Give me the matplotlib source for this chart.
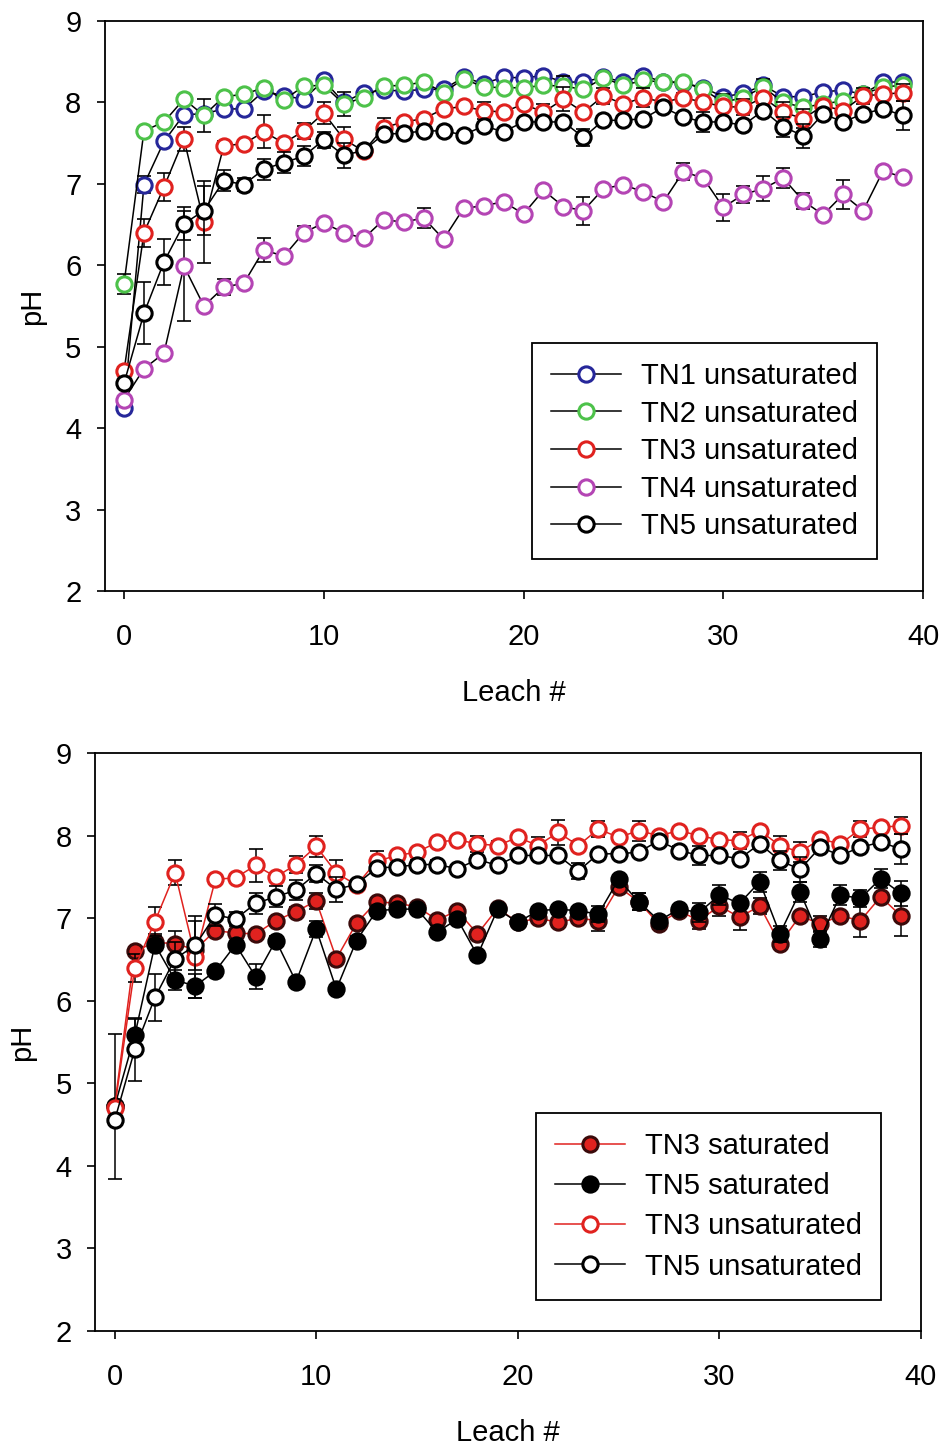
import numpy as np
import matplotlib.pyplot as plt

plt.rcParams['font.family'] = ['Liberation Sans', 'DejaVu Sans']

leach = np.arange(40)

# top panel: unsaturated columns
tn1_unsat = [4.25, 6.99, 7.52, 7.85, 7.86, 7.92, 7.92, 8.14, 8.08, 8.04,
             8.27, 8.00, 8.12, 8.15, 8.14, 8.16, 8.16, 8.31, 8.23, 8.31,
             8.30, 8.33, 8.25, 8.25, 8.31, 8.25, 8.33, 8.25, 8.24, 8.18,
             8.07, 8.11, 8.21, 8.07, 8.07, 8.13, 8.15, 8.10, 8.25, 8.25]
tn1_err = [0.05, 0.10, 0.05, 0.05, 0.05, 0.05, 0.05, 0.05, 0.05, 0.05,
           0.05, 0.05, 0.05, 0.05, 0.05, 0.05, 0.05, 0.05, 0.05, 0.05,
           0.05, 0.05, 0.05, 0.05, 0.05, 0.05, 0.05, 0.05, 0.05, 0.05,
           0.05, 0.05, 0.05, 0.05, 0.05, 0.05, 0.05, 0.05, 0.05, 0.05]

tn2_unsat = [5.77, 7.65, 7.76, 8.04, 7.84, 8.07, 8.10, 8.18, 8.03, 8.20,
             8.21, 7.98, 8.06, 8.20, 8.21, 8.25, 8.12, 8.29, 8.19, 8.18,
             8.18, 8.21, 8.20, 8.16, 8.30, 8.21, 8.27, 8.25, 8.25, 8.16,
             8.00, 8.06, 8.19, 8.00, 7.94, 7.98, 8.02, 8.10, 8.19, 8.21]
tn2_err = [0.12, 0.05, 0.05, 0.05, 0.20, 0.05, 0.05, 0.05, 0.05, 0.05,
           0.05, 0.15, 0.05, 0.05, 0.05, 0.05, 0.05, 0.05, 0.05, 0.05,
           0.05, 0.05, 0.12, 0.05, 0.05, 0.05, 0.05, 0.05, 0.05, 0.05,
           0.10, 0.05, 0.10, 0.05, 0.05, 0.05, 0.05, 0.05, 0.05, 0.05]

tn3_unsat = [4.70, 6.40, 6.96, 7.55, 6.53, 7.47, 7.49, 7.64, 7.50, 7.65,
             7.87, 7.55, 7.40, 7.69, 7.76, 7.80, 7.92, 7.95, 7.90, 7.88,
             7.98, 7.88, 8.04, 7.88, 8.08, 7.98, 8.06, 8.00, 8.06, 8.00,
             7.95, 7.94, 8.06, 7.88, 7.80, 7.96, 7.90, 8.08, 8.10, 8.12]
tn3_err = [0.05, 0.17, 0.17, 0.15, 0.50, 0.05, 0.05, 0.20, 0.05, 0.10,
           0.13, 0.15, 0.05, 0.12, 0.05, 0.05, 0.05, 0.05, 0.10, 0.05,
           0.05, 0.10, 0.15, 0.05, 0.10, 0.05, 0.12, 0.05, 0.05, 0.05,
           0.05, 0.10, 0.05, 0.12, 0.12, 0.05, 0.05, 0.10, 0.05, 0.10]

tn4_unsat = [4.35, 4.73, 4.92, 5.99, 5.50, 5.73, 5.78, 6.19, 6.11, 6.40,
             6.52, 6.40, 6.33, 6.56, 6.53, 6.58, 6.32, 6.70, 6.73, 6.78,
             6.63, 6.92, 6.72, 6.67, 6.94, 6.99, 6.90, 6.78, 7.15, 7.07,
             6.71, 6.87, 6.94, 7.07, 6.79, 6.62, 6.87, 6.67, 7.16, 7.08]
tn4_err = [0.05, 0.05, 0.05, 0.68, 0.05, 0.10, 0.05, 0.15, 0.05, 0.08,
           0.05, 0.05, 0.05, 0.05, 0.05, 0.12, 0.05, 0.05, 0.05, 0.05,
           0.05, 0.05, 0.05, 0.17, 0.05, 0.05, 0.05, 0.05, 0.10, 0.05,
           0.17, 0.10, 0.15, 0.12, 0.10, 0.05, 0.18, 0.05, 0.05, 0.05]

tn5_unsat = [4.55, 5.41, 6.04, 6.51, 6.67, 7.04, 6.99, 7.18, 7.26, 7.34,
             7.54, 7.35, 7.41, 7.61, 7.62, 7.65, 7.65, 7.60, 7.71, 7.64,
             7.76, 7.76, 7.76, 7.57, 7.78, 7.78, 7.80, 7.94, 7.82, 7.76,
             7.76, 7.72, 7.90, 7.70, 7.59, 7.86, 7.76, 7.86, 7.92, 7.84]
tn5_err = [0.05, 0.38, 0.28, 0.20, 0.30, 0.13, 0.08, 0.13, 0.13, 0.12,
           0.10, 0.15, 0.05, 0.05, 0.05, 0.05, 0.05, 0.05, 0.05, 0.05,
           0.05, 0.05, 0.05, 0.10, 0.05, 0.05, 0.05, 0.05, 0.05, 0.12,
           0.05, 0.05, 0.05, 0.12, 0.15, 0.05, 0.05, 0.05, 0.05, 0.18]

# bottom panel: saturated columns
tn3_sat = [4.72, 6.60, 6.71, 6.69, 6.62, 6.85, 6.82, 6.81, 6.97, 7.08,
           7.21, 6.51, 6.94, 7.20, 7.18, 7.14, 6.98, 7.09, 6.81, 7.12,
           6.95, 7.00, 6.95, 7.00, 6.97, 7.38, 7.20, 6.93, 7.09, 6.97,
           7.15, 7.01, 7.15, 6.69, 7.03, 6.93, 7.03, 6.97, 7.26, 7.03]
tn3_sat_err = [0.05, 0.05, 0.10, 0.15, 0.10, 0.05, 0.05, 0.05, 0.05, 0.05,
               0.10, 0.05, 0.05, 0.05, 0.05, 0.05, 0.05, 0.05, 0.05, 0.05,
               0.05, 0.05, 0.05, 0.05, 0.12, 0.05, 0.10, 0.05, 0.05, 0.10,
               0.12, 0.15, 0.10, 0.05, 0.05, 0.10, 0.05, 0.20, 0.05, 0.25]

tn5_sat = [4.72, 5.58, 6.68, 6.25, 6.18, 6.36, 6.68, 6.29, 6.73, 6.23,
           6.87, 6.14, 6.73, 7.09, 7.11, 7.11, 6.83, 6.99, 6.55, 7.11,
           6.95, 7.09, 7.11, 7.09, 7.05, 7.47, 7.20, 6.97, 7.11, 7.07,
           7.28, 7.18, 7.44, 6.81, 7.32, 6.75, 7.28, 7.24, 7.48, 7.30]
tn5_sat_err = [0.88, 0.20, 0.05, 0.12, 0.15, 0.05, 0.05, 0.15, 0.05, 0.05,
               0.10, 0.05, 0.05, 0.05, 0.05, 0.05, 0.05, 0.05, 0.05, 0.05,
               0.05, 0.05, 0.05, 0.05, 0.10, 0.05, 0.10, 0.05, 0.05, 0.12,
               0.12, 0.05, 0.12, 0.10, 0.12, 0.10, 0.12, 0.10, 0.12, 0.15]

fig = plt.figure(figsize=(9.47, 14.46), dpi=100)
ax1 = fig.add_axes([0.1109, 0.5913, 0.8638, 0.3942])
ax2 = fig.add_axes([0.1008, 0.0795, 0.8717, 0.3997])


def series(ax, y, err, edge, face, line, label, z):
    ax.errorbar(leach, y, yerr=err, fmt='none', ecolor='black', elinewidth=1.1,
                capsize=5, capthick=1.2, zorder=z)
    ax.plot(leach, y, '-o', color=line, lw=1.1, ms=11, mew=2.2,
            mec=edge, mfc=face, label=label, zorder=z + 0.5)


series(ax1, tn1_unsat, tn1_err, '#26279a', 'white', 'black', 'TN1 unsaturated', 3)
series(ax1, tn2_unsat, tn2_err, '#4dc24a', 'white', 'black', 'TN2 unsaturated', 4)
series(ax1, tn3_unsat, tn3_err, '#e0221f', 'white', 'black', 'TN3 unsaturated', 5)
series(ax1, tn4_unsat, tn4_err, '#b445b4', 'white', 'black', 'TN4 unsaturated', 6)
series(ax1, tn5_unsat, tn5_err, 'black', 'white', 'black', 'TN5 unsaturated', 7)

series(ax2, tn3_sat, tn3_sat_err, '#3a0a0a', '#e0221f', '#e0221f', 'TN3 saturated', 3)
series(ax2, tn5_sat, tn5_sat_err, 'black', 'black', 'black', 'TN5 saturated', 4)
series(ax2, tn3_unsat, tn3_err, '#e0221f', 'white', '#e0221f', 'TN3 unsaturated', 5)
series(ax2, tn5_unsat, tn5_err, 'black', 'white', 'black', 'TN5 unsaturated', 6)

legend_anchor = {ax1: (0.5615, 0.7628), ax2: (0.566, 0.2303)}
legend_spacing = {ax1: 0.33, ax2: 0.42}

for ax in (ax1, ax2):
    ax.set_xlim(-0.95, 40)
    ax.set_ylim(2, 9)
    ax.set_xticks([0, 10, 20, 30, 40])
    ax.set_yticks([2, 3, 4, 5, 6, 7, 8, 9])
    ax.tick_params(direction='out', length=6, width=1.2, labelsize=21)
    ax.tick_params(axis='x', pad=17)
    ax.tick_params(axis='y', pad=11)
    ax.tick_params(top=False, right=False)
    for s in ax.spines.values():
        s.set_linewidth(1.3)
    ax.set_xlabel('Leach #', fontsize=21, labelpad=20)
    ax.set_ylabel('pH', fontsize=21, labelpad=14)
    leg = ax.legend(loc='upper left', bbox_to_anchor=legend_anchor[ax],
                    bbox_transform=fig.transFigure, fontsize=21, frameon=True,
                    fancybox=False, framealpha=1, edgecolor='black',
                    handlelength=2.4, labelspacing=legend_spacing[ax],
                    borderpad=0.65, handletextpad=0.7, borderaxespad=0)
    leg.get_frame().set_linewidth(1.3)

fig.savefig('out.png', dpi=100)
